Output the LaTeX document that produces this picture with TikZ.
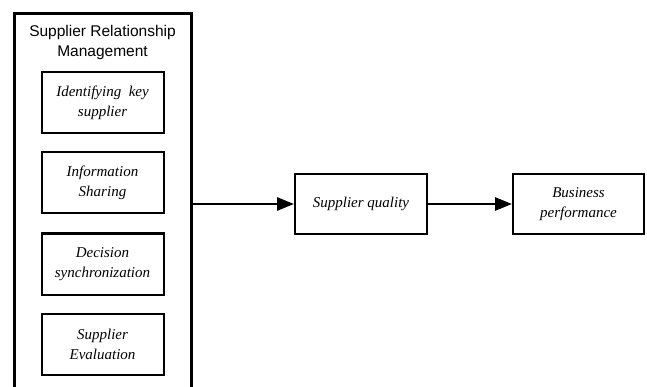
\documentclass[tikz,border=0pt]{standalone}
\usepackage{fontspec}
\setmainfont{Liberation Serif}
\newfontfamily\titlefont{Liberation Sans}
\usetikzlibrary{arrows.meta}
\tikzset{
  outerbox/.style={draw=black, line width=3pt, inner sep=0pt, minimum width=177pt, minimum height=390pt},
  innerbox/.style={draw=black, line width=2pt, inner sep=0pt, minimum width=122pt, minimum height=61pt,
    align=center, font=\fontsize{15}{20}\selectfont\itshape},
  outbox/.style={draw=black, line width=2pt, inner sep=0pt, minimum width=131pt, minimum height=60pt,
    align=center, font=\fontsize{15}{20}\selectfont\itshape},
  conn/.style={line width=2.8pt, -{Triangle[length=17pt, width=13pt]}}
}
\begin{document}
\begin{tikzpicture}[x=1pt, y=-1pt]
\useasboundingbox (0,0) rectangle (647,387);
\clip (0,0) rectangle (647,387);
\fill[white] (0,0) rectangle (647,387);
\node[outerbox] (srm) at (102.5,209) {};
\node[align=center, font=\titlefont\fontsize{15.5}{20}\selectfont] (title) at (102.5,42) {Supplier Relationship\\Management};
\node[innerbox] (b1) at (102.5,102.5) {Identifying\ \ key\\supplier};
\node[innerbox] (b2) at (102.5,183) {Information\\Sharing};
\node[innerbox] (b3) at (102.5,264) {Decision\\synchronization};
\node[innerbox] (b4) at (102.5,344.5) {Supplier\\Evaluation};
\node[outbox, minimum width=132pt] (sq) at (361,204) {Supplier quality};
\node[outbox] (bp) at (578.5,204) {Business\\performance};
\draw[conn] (srm.east |- sq.west) -- (sq.west);
\draw[conn] (sq.east) -- (bp.west);
\end{tikzpicture}
\end{document}
